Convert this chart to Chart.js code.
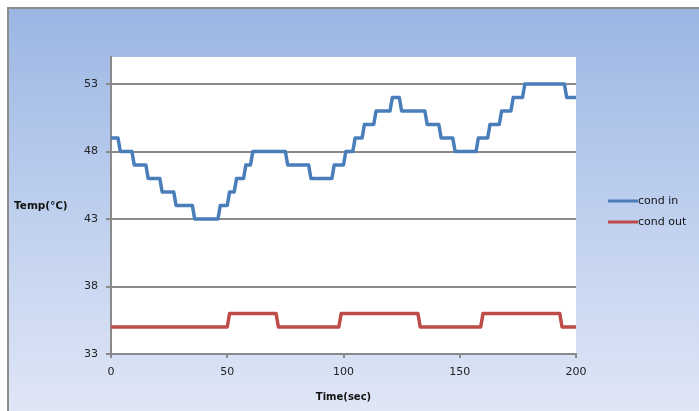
<!DOCTYPE html>
<html>
<head>
<meta charset="utf-8">
<script src="https://cdn.jsdelivr.net/npm/chart.js@4.4.1/dist/chart.umd.min.js"></script>
<style>
  html, body { margin: 0; padding: 0; background: #ffffff; }
  #wrap { width: 699px; height: 411px; position: relative; }
</style>
</head>
<body>
<div id="wrap"><canvas id="c" width="699" height="411"></canvas></div>
<script>
// ---- data ----
const seriesNames = ["cond in", "cond out"];
const condInTime = [0, 3, 4, 9, 10, 15, 16, 21, 22, 27, 28, 35, 36, 46, 47, 50, 51, 53, 54, 57, 58, 60, 61, 75, 76, 85, 86, 95, 96, 100, 101, 104, 105, 108, 109, 113, 114, 120, 121, 124, 125, 135, 136, 141, 142, 147, 148, 157, 158, 162, 163, 167, 168, 172, 173, 177, 178, 195, 196, 200];
const condInTemp = [49, 49, 48, 48, 47, 47, 46, 46, 45, 45, 44, 44, 43, 43, 44, 44, 45, 45, 46, 46, 47, 47, 48, 48, 47, 47, 46, 46, 47, 47, 48, 48, 49, 49, 50, 50, 51, 51, 52, 52, 51, 51, 50, 50, 49, 49, 48, 48, 49, 49, 50, 50, 51, 51, 52, 52, 53, 53, 52, 52];
const condOutTime = [0, 50, 51, 71, 72, 98, 99, 132, 133, 159, 160, 193, 194, 200];
const condOutTemp = [35, 35, 36, 36, 35, 35, 36, 36, 35, 35, 36, 36, 35, 35];
const yTicks = [33, 38, 43, 48, 53];
const xTicks = [0, 50, 100, 150, 200];
const xTitle = "Time(sec)";
const yTitle = "Temp(℃)";

const BLUE = "#4a7ebb";
const RED = "#be4b48";
const GRID = "#8a8a8a";

function pairs(xs, ys) { return xs.map((x, i) => ({ x: x, y: ys[i] })); }

const bgPlugin = {
  id: "bg",
  beforeDraw(chart) {
    const ctx = chart.ctx;
    const W = chart.width, H = chart.height;
    ctx.save();
    ctx.fillStyle = "#ffffff";
    ctx.fillRect(0, 0, W, H);
    const g = ctx.createLinearGradient(0, 8, 0, H);
    g.addColorStop(0, "#9bb6e3");
    g.addColorStop(0.5, "#becfee");
    g.addColorStop(1, "#dfe6f6");
    ctx.fillStyle = g;
    ctx.fillRect(8, 8, W - 8, H - 8);
    ctx.strokeStyle = "#8c8c8c";
    ctx.lineWidth = 2;
    ctx.beginPath();
    ctx.moveTo(8, H);
    ctx.lineTo(8, 8);
    ctx.lineTo(W, 8);
    ctx.stroke();
    const a = chart.chartArea;
    ctx.fillStyle = "#ffffff";
    ctx.fillRect(a.left, a.top, a.right - a.left, a.bottom - a.top);
    ctx.restore();
  },
  afterDraw(chart) {
    const ctx = chart.ctx;
    ctx.save();
    // horizontal y-axis title
    ctx.fillStyle = "#111111";
    ctx.font = "bold 10.5px 'DejaVu Sans', sans-serif";
    ctx.textAlign = "left";
    ctx.textBaseline = "middle";
    ctx.fillText(yTitle, 14, 206);
    // legend
    ctx.font = "11px 'DejaVu Sans', sans-serif";
    chart.data.datasets.forEach((ds, i) => {
      const y = 201 + i * 21;
      ctx.strokeStyle = ds.borderColor;
      ctx.lineWidth = 3;
      ctx.lineCap = "butt";
      ctx.beginPath();
      ctx.moveTo(608, y);
      ctx.lineTo(638, y);
      ctx.stroke();
      ctx.fillStyle = "#111111";
      ctx.fillText(ds.label, 638, y);
    });
    ctx.restore();
  }
};

new Chart(document.getElementById("c"), {
  type: "line",
  data: {
    datasets: [
      { label: seriesNames[0], data: pairs(condInTime, condInTemp), borderColor: BLUE, backgroundColor: BLUE,
        borderWidth: 3.5, pointRadius: 0, tension: 0, borderJoinStyle: "round", borderCapStyle: "round" },
      { label: seriesNames[1], data: pairs(condOutTime, condOutTemp), borderColor: RED, backgroundColor: RED,
        borderWidth: 3.5, pointRadius: 0, tension: 0, borderJoinStyle: "round", borderCapStyle: "round" }
    ]
  },
  options: {
    responsive: false,
    animation: false,
    devicePixelRatio: 1,
    layout: { padding: { left: 0, right: 123, top: 57, bottom: 0 } },
    plugins: { legend: { display: false }, tooltip: { enabled: false } },
    scales: {
      x: {
        type: "linear",
        min: 0, max: 200,
        afterBuildTicks(s) { s.ticks = xTicks.map(v => ({ value: v })); },
        afterFit(s) { s.height = 57; },
        grid: { drawOnChartArea: false, drawTicks: true, tickLength: 4, color: GRID, lineWidth: 2 },
        border: { display: true, color: GRID, width: 2 },
        ticks: { color: "#222222", font: { family: "'DejaVu Sans', sans-serif", size: 11 }, padding: 8, maxRotation: 0 },
        title: { display: true, text: xTitle, color: "#111111", font: { family: "'DejaVu Sans', sans-serif", size: 10, weight: "bold" }, padding: { top: 0, bottom: 8 } }
      },
      y: {
        type: "linear",
        min: 33, max: 55,
        afterBuildTicks(s) { s.ticks = yTicks.map(v => ({ value: v })); },
        afterFit(s) { s.width = 111; },
        grid: { drawOnChartArea: true, drawTicks: true, tickLength: 5, color: GRID, lineWidth: 2 },
        border: { display: true, color: GRID, width: 2 },
        ticks: { color: "#222222", font: { family: "'DejaVu Sans', sans-serif", size: 11 }, padding: 8 }
      }
    }
  },
  plugins: [bgPlugin]
});
</script>
</body>
</html>
